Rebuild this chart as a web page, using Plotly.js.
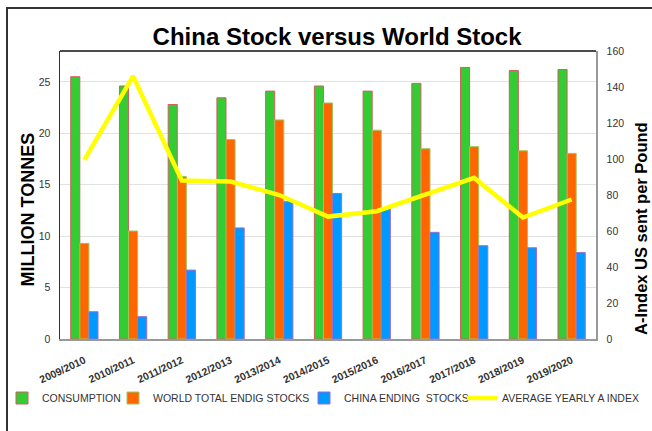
<!DOCTYPE html>
<html>
<head>
<meta charset="utf-8">
<script src="https://cdn.plot.ly/plotly-3.0.1.min.js"></script>
<style>html,body{margin:0;padding:0;background:#fff;}</style>
</head>
<body>
<div id="chart" style="width:652px;height:431px;"></div>
<script>
const seasons = ["2009/2010","2010/2011","2011/2012","2012/2013","2013/2014","2014/2015","2015/2016","2016/2017","2017/2018","2018/2019","2019/2020"];
const consumption = [25.5, 24.6, 22.8, 23.45, 24.1, 24.6, 24.1, 24.85, 26.4, 26.1, 26.2];
const worldStocks = [9.3, 10.5, 15.8, 19.4, 21.3, 22.95, 20.3, 18.5, 18.7, 18.3, 18.05];
const chinaStocks = [2.65, 2.17, 6.7, 10.8, 13.35, 14.15, 12.7, 10.37, 9.07, 8.87, 8.4];
const aIndex = [99.5, 146, 88, 87.5, 80, 68, 71, 80, 89.5, 67.5, 77.5];

const sans = "Liberation Sans, Arial, sans-serif";
const W = 652, L = 60, R = 56, T = 51, B = 92;
const PW = W - L - R, PH = 431 - T - B;
const px = v => (v - L) / PW;           // pixel x -> paper x
const py = v => (431 - B - v) / PH;     // pixel y -> paper y

const traces = [
  {type:"bar", name:"CONSUMPTION", x:seasons, y:consumption, legend:"legend",
   marker:{color:"#33CC33", line:{color:"#D06060", width:1}}},
  {type:"bar", name:"WORLD TOTAL ENDIG STOCKS", x:seasons, y:worldStocks, legend:"legend2",
   marker:{color:"#FF6600", line:{color:"#9CC860", width:1}}},
  {type:"bar", name:"CHINA ENDING  STOCKS", x:seasons, y:chinaStocks, legend:"legend3",
   marker:{color:"#0099FF", line:{color:"#9A6FCF", width:1}}},
  {type:"scatter", mode:"lines", name:"AVERAGE YEARLY A INDEX", x:seasons, y:aIndex, yaxis:"y2", legend:"legend4",
   line:{color:"#FFFF00", width:4.5}}
];

const legFont = {family:sans, size:10.5, color:"#333"};
function leg(textStart){
  return {orientation:"h", x:px(textStart - 42), xanchor:"left", y:py(398), yanchor:"middle",
          font:legFont, itemwidth:30, bgcolor:"rgba(0,0,0,0)"};
}

const layout = {
  width:W, height:431,
  margin:{l:L, r:R, t:T, b:B, autoexpand:false},
  paper_bgcolor:"#ffffff", plot_bgcolor:"#ffffff",
  title:{text:"China Stock versus World Stock", x:0.517, xanchor:"center", y:0.916, yanchor:"middle",
         font:{family:sans, size:24, color:"#000", weight:"bold"}},
  barmode:"group", bargap:0.44, bargroupgap:0,
  showlegend:true,
  legend:leg(44), legend2:leg(155), legend3:leg(346), legend4:leg(504),
  xaxis:{type:"category", showline:true, linecolor:"#999", linewidth:1.5, ticks:"", automargin:false,
         tickangle:-25, ticklabelstandoff:10, tickfont:{family:sans, size:10.5, color:"#333", weight:"bold"}, showgrid:false},
  yaxis:{range:[0,28], dtick:5, showline:true, linecolor:"#333", linewidth:1.5, ticks:"", automargin:false,
         gridcolor:"#e2e2e2", gridwidth:1, zeroline:false, ticklabelstandoff:6,
         tickfont:{family:sans, size:10.5, color:"#333"}},
  yaxis2:{range:[0,160], dtick:20, overlaying:"y", side:"right", showline:true, linecolor:"#999", automargin:false,
          linewidth:1.5, ticks:"", showgrid:false, zeroline:false, ticklabelstandoff:7,
          tickfont:{family:sans, size:10.5, color:"#333"}},
  annotations:[
    {text:"MILLION TONNES", xref:"paper", yref:"paper", x:px(27.5), y:py(210), textangle:-90,
     showarrow:false, xanchor:"center", yanchor:"middle", font:{family:sans, size:18, color:"#000", weight:"bold"}},
    {text:"A-Index US sent per Pound", xref:"paper", yref:"paper", x:px(641), y:py(229), textangle:-90,
     showarrow:false, xanchor:"center", yanchor:"middle", font:{family:sans, size:16.5, color:"#000", weight:"bold"}}
  ],
  shapes:[
    {type:"line", xref:"paper", yref:"paper", x0:0, x1:1, y0:1, y1:1, line:{color:"#111", width:1.5}},
    {type:"rect", xref:"paper", yref:"paper", x0:px(7), x1:px(662), y0:py(445), y1:py(8),
     line:{color:"#333", width:2}, fillcolor:"rgba(0,0,0,0)"}
  ]
};

Plotly.newPlot("chart", traces, layout, {displayModeBar:false, staticPlot:true});
</script>
</body>
</html>
